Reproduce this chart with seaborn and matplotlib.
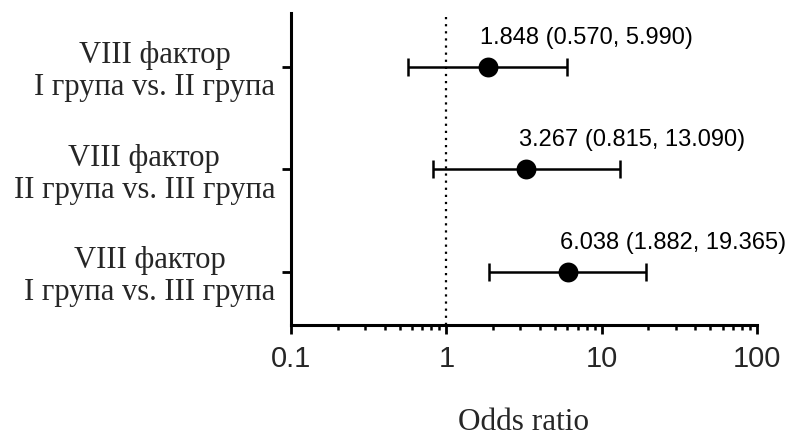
import matplotlib
matplotlib.use("Agg")
import matplotlib.pyplot as plt
from matplotlib.ticker import LogLocator, NullFormatter, FixedFormatter, FixedLocator
import numpy as np
import pandas as pd
import seaborn as sns

# Odds ratios with 95% confidence intervals for factor VIII group comparisons
comparisons = [
    "VIII фактор\nI група vs. II група",
    "VIII фактор\nII група vs. III група",
    "VIII фактор\nI група vs. III група",
]
odds_ratio = [1.848, 3.267, 6.038]
ci_lower = [0.570, 0.815, 1.882]
ci_upper = [5.990, 13.090, 19.365]
x_ticks = [0.1, 1, 10, 100]
x_tick_labels = ["0.1", "1", "10", "100"]

df = pd.DataFrame({
    "comparison": comparisons,
    "row": np.arange(len(comparisons)),
    "or": odds_ratio,
    "lo": ci_lower,
    "hi": ci_upper,
})

sns.set_style("ticks")
serif = ["Liberation Serif", "DejaVu Serif"]
sans = ["Liberation Sans", "DejaVu Sans"]

fig = plt.figure(figsize=(7.85, 4.36), dpi=100)
ax = fig.add_axes([0.3707, 0.2546, 0.5936, 0.7156])

# Reference line at OR = 1
ax.axvline(1, color="black", linestyle=(0, (1, 2.2)), linewidth=1.6, zorder=1)

# Confidence intervals
ax.errorbar(
    df["or"], df["row"],
    xerr=[df["or"] - df["lo"], df["hi"] - df["or"]],
    fmt="none", ecolor="black", elinewidth=1.8, capsize=6.5, capthick=1.8, zorder=2,
)

# Point estimates
sns.scatterplot(data=df, x="or", y="row", ax=ax, color="black", s=205,
                edgecolor="black", linewidth=0, zorder=3, legend=False)

# Value annotations above each estimate
for _, r in df.iterrows():
    ax.annotate(
        f"{r['or']:.3f} ({r['lo']:.3f}, {r['hi']:.3f})",
        xy=(r["or"], r["row"]), xytext=(-5.5, 21), textcoords="offset points",
        ha="left", va="center", fontsize=17, family=sans, color="black",
    )

ax.set_xscale("log")
ax.set_xlim(0.1, 100)
ax.set_ylim(2.52, -0.525)

ax.xaxis.set_major_locator(FixedLocator(x_ticks))
ax.xaxis.set_major_formatter(FixedFormatter(x_tick_labels))
ax.xaxis.set_minor_locator(LogLocator(base=10, subs=np.arange(2, 10)))
ax.xaxis.set_minor_formatter(NullFormatter())

ax.set_yticks(df["row"])
ax.set_yticklabels(df["comparison"], family=serif, fontsize=22,
                   ha="right", multialignment="center", linespacing=1.13)
ax.tick_params(axis="y", pad=5)

for lab in ax.get_xticklabels():
    lab.set_family(sans)
ax.tick_params(axis="x", which="major", length=6.5, width=2.0, labelsize=21,
               pad=8, direction="out", color="black")
ax.tick_params(axis="x", which="minor", length=3.5, width=1.8, direction="out",
               color="black")
ax.tick_params(axis="y", length=6.5, width=2.0, direction="out", color="black")

ax.set_xlabel("Odds ratio", family=serif, fontsize=22.5, labelpad=25)
ax.set_ylabel("")

sns.despine(ax=ax)
for side in ("left", "bottom"):
    ax.spines[side].set_linewidth(2.2)
    ax.spines[side].set_color("black")

fig.savefig("out.png", dpi=100)
